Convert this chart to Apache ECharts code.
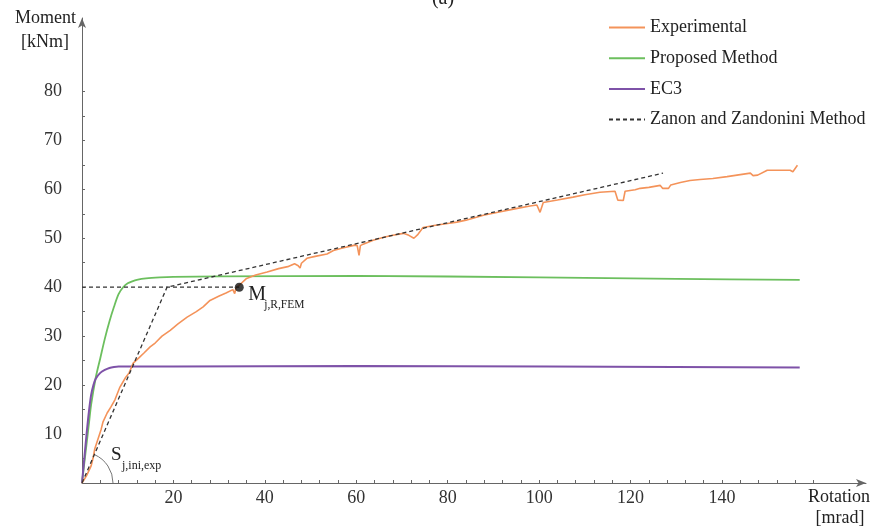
<!DOCTYPE html>
<html>
<head>
	<meta charset="utf-8"/>
	<title>Moment - Rotation</title>
	<style>
		html, body {
			margin: 0;
			padding: 0;
			background: #fff;
		}
		#chart {
			width: 874px;
			height: 531px;
		}
	</style>
</head>
<body>
	<div id="chart"></div>

	<script src="https://cdn.jsdelivr.net/npm/echarts@6/dist/echarts.min.js"></script>
	<script>
		// rotation [mrad], moment [kNm]
		const expData = [
			[0, 0], [1, 1.5], [2, 3.5], [2.4, 5], [2.8, 7], [3.5, 9], [4.2, 11], [4.6, 12.5],
			[5.5, 14.3], [6.3, 15.5], [7.2, 17], [8.3, 19.6], [9.5, 21.5], [10.3, 22.5], [11.2, 24.5],
			[12.5, 25.6], [13.5, 26.5], [14.9, 27.8], [16, 28.6], [17.5, 30], [19.3, 31.2], [21, 32.5],
			[23, 33.9], [25, 35], [26.5, 36], [28, 37.3], [30, 38.2], [31.5, 38.8], [33, 39.5],
			[33.4, 38.7], [33.7, 39.9], [34.4, 40.4], [36, 41.8], [38, 42.5], [40.5, 43.1], [43, 43.8],
			[45, 44.2], [46.5, 44.8],
			[47.3, 44.4], [47.7, 43.9], [48, 44.9], [49.2, 45.9], [51, 46.3], [53.6, 46.8], [55, 47.5],
			[57, 48], [59.7, 48.6], [60.2, 48.5], [60.6, 46.5], [60.9, 48.5], [61.5, 48.8], [63.7, 49.6],
			[66, 50.2], [68, 50.6], [70.3, 51], [71.5, 50.6], [72.6, 50], [73.5, 50.8], [74.6, 52.2],
			[77, 52.6], [80, 53], [82, 53.3], [84, 53.7], [87.8, 54.7], [91, 55.3], [95.2, 56.1],
			[98, 56.6], [99.5, 56.8], [100.2, 55.3], [100.9, 57.3], [104, 57.8], [107.4, 58.4],
			[110, 58.9], [113.3, 59.4], [116.6, 59.6], [117.2, 57.8], [118.4, 57.7], [118.8, 59.6],
			[121, 59.9], [122.1, 60.2], [124, 60.4], [126.5, 60.8], [127, 60.2], [128.3, 60.2],
			[128.8, 60.9], [130.9, 61.4], [133, 61.8], [135.2, 62], [138, 62.2], [141.1, 62.6],
			[144, 63], [146.2, 63.3], [146.8, 62.8], [147.8, 62.9], [149.9, 63.9], [152, 63.9],
			[154.9, 63.9], [155.5, 63.6], [156.5, 64.9]
		];
		const proposedData = [
			[0, 0], [0.5, 4], [1, 8], [1.5, 12], [2, 16], [3, 21.5], [4, 25.5], [5, 29.5], [6, 33],
			[7, 36], [8, 38.6], [9, 40], [10, 40.8], [11, 41.2], [12, 41.5], [14, 41.8], [17, 42],
			[20, 42.1], [30, 42.2], [60, 42.3], [100, 42], [130, 41.7], [157, 41.5]
		];
		const ec3Data = [
			[0, 0], [0.5, 5], [1, 10], [1.5, 14.5], [2, 18], [2.5, 20], [3, 21.3], [4, 22.5],
			[5, 23.1], [6, 23.5], [7, 23.7], [8, 23.8], [20, 23.8], [60, 23.9], [157, 23.6]
		];
		const zanonData = [[0, 0], [18.6, 40], [127.1, 63.3]];
		const resistanceLine = [[0, 40], [34.4, 40]];
		const resistancePoint = [[34.4, 40]];

		const seriesNames = ['Experimental', 'Proposed Method', 'EC3', 'Zanon and Zandonini Method'];
		const xTickLabels = [20, 40, 60, 80, 100, 120, 140];
		const yTickLabels = [10, 20, 30, 40, 50, 60, 70, 80];

		const serif = 'Liberation Serif';
		const xTicks = [];
		for (let v = 4; v <= 160; v += 4) xTicks.push(v);
		const yTicks = [];
		for (let v = 5; v <= 80; v += 5) yTicks.push(v);

		const chart = echarts.init(document.getElementById('chart'));

		chart.setOption({
			animation: false,
			backgroundColor: '#fff',
			grid: {
				left: 82,
				right: 8,
				top: 18,
				bottom: 48,
				containLabel: false,
				outerBoundsMode: 'none'
			},
			legend: {
				data: seriesNames,
				orient: 'vertical',
				left: 603,
				top: 13.5,
				itemWidth: 36,
				itemHeight: 14,
				itemGap: 12.7,
				itemStyle: {opacity: 0},
				textStyle: {
					fontFamily: serif,
					fontSize: 18,
					color: '#222'
				}
			},
			xAxis: {
				type: 'value',
				min: 0,
				max: 171.5,
				axisLine: {
					symbol: ['none', 'arrow'],
					symbolSize: [6, 10],
					lineStyle: {color: '#666', width: 1}
				},
				axisTick: {
					customValues: xTicks,
					inside: true,
					length: 3,
					lineStyle: {color: '#666'}
				},
				axisLabel: {
					customValues: xTickLabels,
					fontFamily: serif,
					fontSize: 18,
					color: '#333',
					margin: 6
				},
				splitLine: {show: false}
			},
			yAxis: {
				type: 'value',
				min: 0,
				max: 95,
				axisLine: {
					symbol: ['none', 'arrow'],
					symbolSize: [6, 10],
					lineStyle: {color: '#666', width: 1}
				},
				axisTick: {
					customValues: yTicks,
					inside: true,
					length: 3,
					lineStyle: {color: '#666'}
				},
				axisLabel: {
					customValues: yTickLabels,
					fontFamily: serif,
					fontSize: 18,
					color: '#333',
					margin: 20
				},
				splitLine: {show: false}
			},
			series: [
				{
					name: seriesNames[0],
					type: 'line',
					data: expData,
					symbol: 'none',
					lineStyle: {color: '#f4935a', width: 1.6},
					itemStyle: {color: '#f4935a'},
					z: 5
				},
				{
					name: seriesNames[1],
					type: 'line',
					data: proposedData,
					symbol: 'none',
					smooth: 0.3,
					lineStyle: {color: '#6cbf5e', width: 1.8},
					itemStyle: {color: '#6cbf5e'},
					z: 4
				},
				{
					name: seriesNames[2],
					type: 'line',
					data: ec3Data,
					symbol: 'none',
					smooth: 0.3,
					lineStyle: {color: '#7e52a8', width: 2},
					itemStyle: {color: '#7e52a8'},
					z: 4
				},
				{
					name: seriesNames[3],
					type: 'line',
					data: zanonData,
					symbol: 'none',
					lineStyle: {color: '#333', width: 1.3, type: [4, 3]},
					itemStyle: {color: '#333'},
					z: 6
				},
				{
					type: 'line',
					data: resistanceLine,
					symbol: 'none',
					lineStyle: {color: '#333', width: 1.3, type: [4, 3]},
					z: 6
				},
				{
					type: 'scatter',
					data: resistancePoint,
					symbolSize: 9,
					itemStyle: {color: '#111'},
					z: 7
				}
			]
		});

		// annotations placed from axis coordinates
		const origin = chart.convertToPixel({gridIndex: 0}, [0, 0]);
		const kink = chart.convertToPixel({gridIndex: 0}, zanonData[1]);
		const mPt = chart.convertToPixel({gridIndex: 0}, resistancePoint[0]);
		const angle = Math.atan2(kink[1] - origin[1], kink[0] - origin[0]);

		const labelStyle = {fontFamily: serif, fill: '#222'};

		chart.setOption({
			graphic: [
				{
					type: 'arc',
					shape: {cx: origin[0], cy: origin[1], r: 31, startAngle: angle, endAngle: 0, clockwise: true},
					style: {stroke: '#777', lineWidth: 1, fill: null},
					silent: true
				},
				{
					type: 'text', x: origin[0] + 29, y: origin[1] - 28,
					style: Object.assign({text: 'S', fontSize: 19, textVerticalAlign: 'middle'}, labelStyle)
				},
				{
					type: 'text', x: origin[0] + 40, y: origin[1] - 17,
					style: Object.assign({text: 'j,ini,exp', fontSize: 12, textVerticalAlign: 'middle'}, labelStyle)
				},
				{
					type: 'text', x: mPt[0] + 9, y: mPt[1] + 8,
					style: Object.assign({text: 'M', fontSize: 20, textVerticalAlign: 'middle'}, labelStyle)
				},
				{
					type: 'text', x: mPt[0] + 25, y: mPt[1] + 18,
					style: Object.assign({text: 'j,R,FEM', fontSize: 11.5, textVerticalAlign: 'middle'}, labelStyle)
				},
				{
					type: 'text', x: 76, y: 18,
					style: Object.assign({text: 'Moment', fontSize: 18, textAlign: 'right', textVerticalAlign: 'middle'}, labelStyle)
				},
				{
					type: 'text', x: 45, y: 42,
					style: Object.assign({text: '[kNm]', fontSize: 18, textAlign: 'center', textVerticalAlign: 'middle'}, labelStyle)
				},
				{
					type: 'text', x: 839, y: 497,
					style: Object.assign({text: 'Rotation', fontSize: 18, textAlign: 'center', textVerticalAlign: 'middle'}, labelStyle)
				},
				{
					type: 'text', x: 840, y: 518,
					style: Object.assign({text: '[mrad]', fontSize: 18, textAlign: 'center', textVerticalAlign: 'middle'}, labelStyle)
				},
				{
					type: 'text', x: 443, y: 9,
					style: Object.assign({text: '(a)', fontSize: 20, textAlign: 'center', textVerticalAlign: 'bottom'}, labelStyle)
				}
			]
		});
	</script>
</body>
</html>
